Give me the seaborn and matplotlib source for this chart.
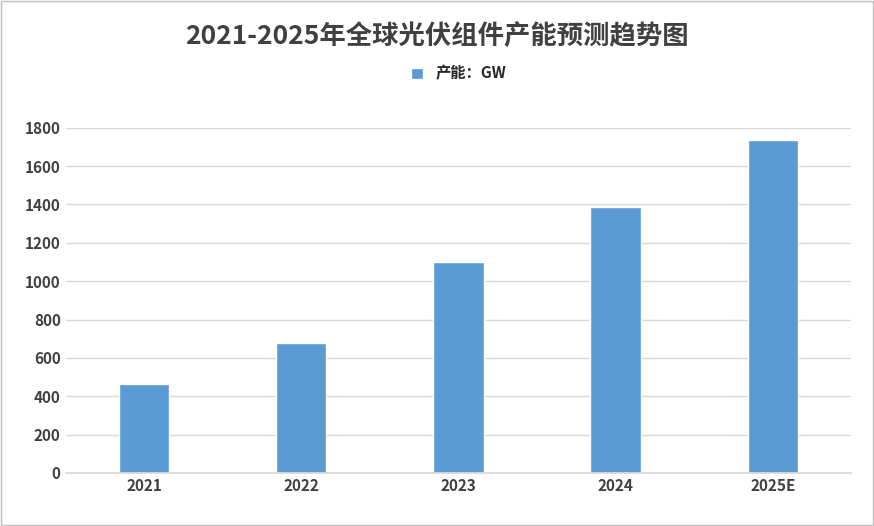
import matplotlib.pyplot as plt
import seaborn as sns
import pandas as pd

years = ['2021', '2022', '2023', '2024', '2025E']
capacity = [465, 680, 1100, 1388, 1737]

sns.set_theme(style='whitegrid')
plt.rcParams['font.family'] = ['Noto Sans CJK SC', 'DejaVu Sans']

df = pd.DataFrame({'year': years, 'cap': capacity})
fig = plt.figure(figsize=(8.74, 5.26), dpi=100)
ax = fig.add_axes([0.075, 0.101, 0.899, 0.656])
sns.barplot(data=df, x='year', y='cap', color='#5b9bd5', width=0.32,
            saturation=1, ax=ax, label='产能：GW')
ax.set_ylim(0, 1800)
ax.set_yticks(range(0, 1801, 200))
ax.set_xlabel('')
ax.set_ylabel('')
ax.grid(axis='y', color='#d9d9d9', linewidth=1)
ax.grid(axis='x', visible=False)
for s in ['top', 'left', 'right']:
    ax.spines[s].set_visible(False)
ax.spines['bottom'].set_color('#d9d9d9')
ax.tick_params(axis='both', length=0, labelsize=11, labelcolor='#404040')
for t in ax.get_xticklabels() + ax.get_yticklabels():
    t.set_fontweight('bold')
ax.legend(loc='upper center', bbox_to_anchor=(0.5, 1.22), frameon=False,
          fontsize=11, handlelength=0.8, handleheight=0.8,
          prop={'weight': 'bold', 'size': 11})
fig.text(0.5, 0.93, '2021-2025年全球光伏组件产能预测趋势图', ha='center', va='center',
         fontsize=19, fontweight='bold', color='#404040')
fig.patches.append(plt.Rectangle((0.001, 0.001), 0.998, 0.998, transform=fig.transFigure,
                                 fill=False, edgecolor='#bfbfbf', linewidth=1))
fig.savefig('out.png', dpi=100)
